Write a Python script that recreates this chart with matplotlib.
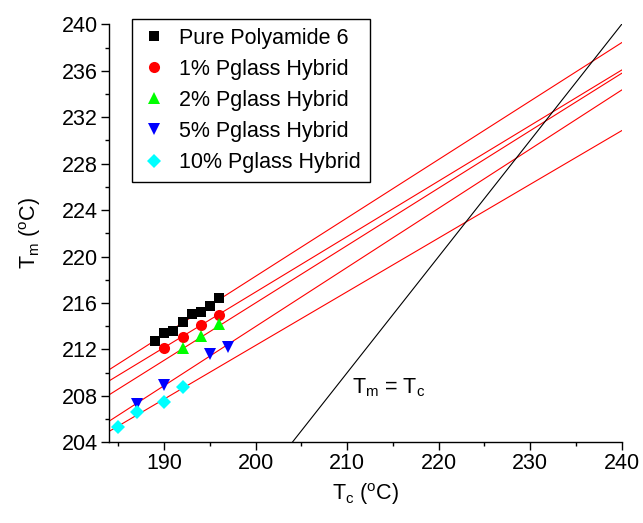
import matplotlib
matplotlib.use('Agg')
import matplotlib.pyplot as plt
from matplotlib.ticker import MultipleLocator

plt.rcParams['font.family'] = ['Liberation Sans', 'DejaVu Sans']
plt.rcParams['mathtext.fontset'] = 'custom'
plt.rcParams['mathtext.rm'] = 'Liberation Sans'
plt.rcParams['mathtext.it'] = 'Liberation Sans'

# data
labels = ['Pure Polyamide 6', '1% Pglass Hybrid', '2% Pglass Hybrid',
          '5% Pglass Hybrid', '10% Pglass Hybrid']

tc_pure = [189, 190, 191, 192, 193, 194, 195, 196]
tm_pure = [212.73, 213.40, 213.58, 214.36, 215.05, 215.20, 215.75, 216.40]
tc_1 = [190, 192, 194, 196]
tm_1 = [212.09, 213.09, 214.08, 214.96]
tc_2 = [192, 194, 196]
tm_2 = [212.14, 213.16, 214.20]
tc_5 = [187, 190, 195, 197]
tm_5 = [207.30, 208.90, 211.62, 212.20]
tc_10 = [185, 187, 190, 192]
tm_10 = [205.34, 206.63, 207.44, 208.79]

# extrapolated fit lines: Tm at Tc=184 and at Tc=240
fit_x = [184, 240]
fit_pure = [210.26, 238.42]
fit_1 = [209.30, 236.06]
fit_2 = [208.10, 235.78]
fit_5 = [205.83, 234.34]
fit_10 = [204.95, 230.84]

eq_x = [204, 240]
eq_y = [204, 240]

fs = 15.5

fig = plt.figure(figsize=(6.43, 5.23), dpi=100)
ax = fig.add_axes([109.3 / 643, 1 - 442.3 / 523, (621.7 - 109.3) / 643, (442.3 - 24.3) / 523])

for fy in [fit_pure, fit_1, fit_2, fit_5, fit_10]:
    ax.plot(fit_x, fy, color='red', lw=0.8, zorder=1)
ax.plot(eq_x, eq_y, color='black', lw=0.8, zorder=1)

ax.plot(tc_pure, tm_pure, 's', color='black', ms=6.5, mew=0, label=labels[0], zorder=3)
ax.plot(tc_1, tm_1, 'o', color='#ff0000', ms=8, mew=0, label=labels[1], zorder=3)
ax.plot(tc_2, tm_2, '^', color='#00ff00', ms=8.5, mew=0, label=labels[2], zorder=3)
ax.plot(tc_5, tm_5, 'v', color='#0000ff', ms=8.5, mew=0, label=labels[3], zorder=3)
ax.plot(tc_10, tm_10, 'D', color='#00ffff', ms=7.5, mew=0, label=labels[4], zorder=3)

ax.set_xlim(184, 240)
ax.set_ylim(204, 240)
ax.xaxis.set_major_locator(MultipleLocator(10))
ax.xaxis.set_minor_locator(MultipleLocator(5))
ax.yaxis.set_major_locator(MultipleLocator(4))
ax.yaxis.set_minor_locator(MultipleLocator(2))
ax.tick_params(which='major', direction='out', length=6, width=1, labelsize=fs, pad=2)
ax.tick_params(which='minor', direction='out', length=3, width=1)
ax.spines['top'].set_visible(False)
ax.spines['right'].set_visible(False)
ax.spines['left'].set_linewidth(1)
ax.spines['bottom'].set_linewidth(1)

ax.set_xlabel(r'T$_\mathregular{c}$ ($^\mathregular{o}$C)', fontsize=fs, labelpad=5)
ax.set_ylabel(r'T$_\mathregular{m}$ ($^\mathregular{o}$C)', fontsize=fs, labelpad=14)

ax.text(210.5, 208.2, r'T$_\mathregular{m}$ = T$_\mathregular{c}$', fontsize=fs, va='baseline')

leg = ax.legend(loc='upper left', bbox_to_anchor=(132 / 643, 1 - 19 / 523),
                bbox_transform=fig.transFigure, borderaxespad=0, fontsize=fs,
                frameon=True, fancybox=False, framealpha=1, edgecolor='black',
                handlelength=1.2, handletextpad=0.6, labelspacing=0.47,
                borderpad=0.4, numpoints=1)
leg.get_frame().set_linewidth(1)

fig.savefig('out.png', dpi=100)
